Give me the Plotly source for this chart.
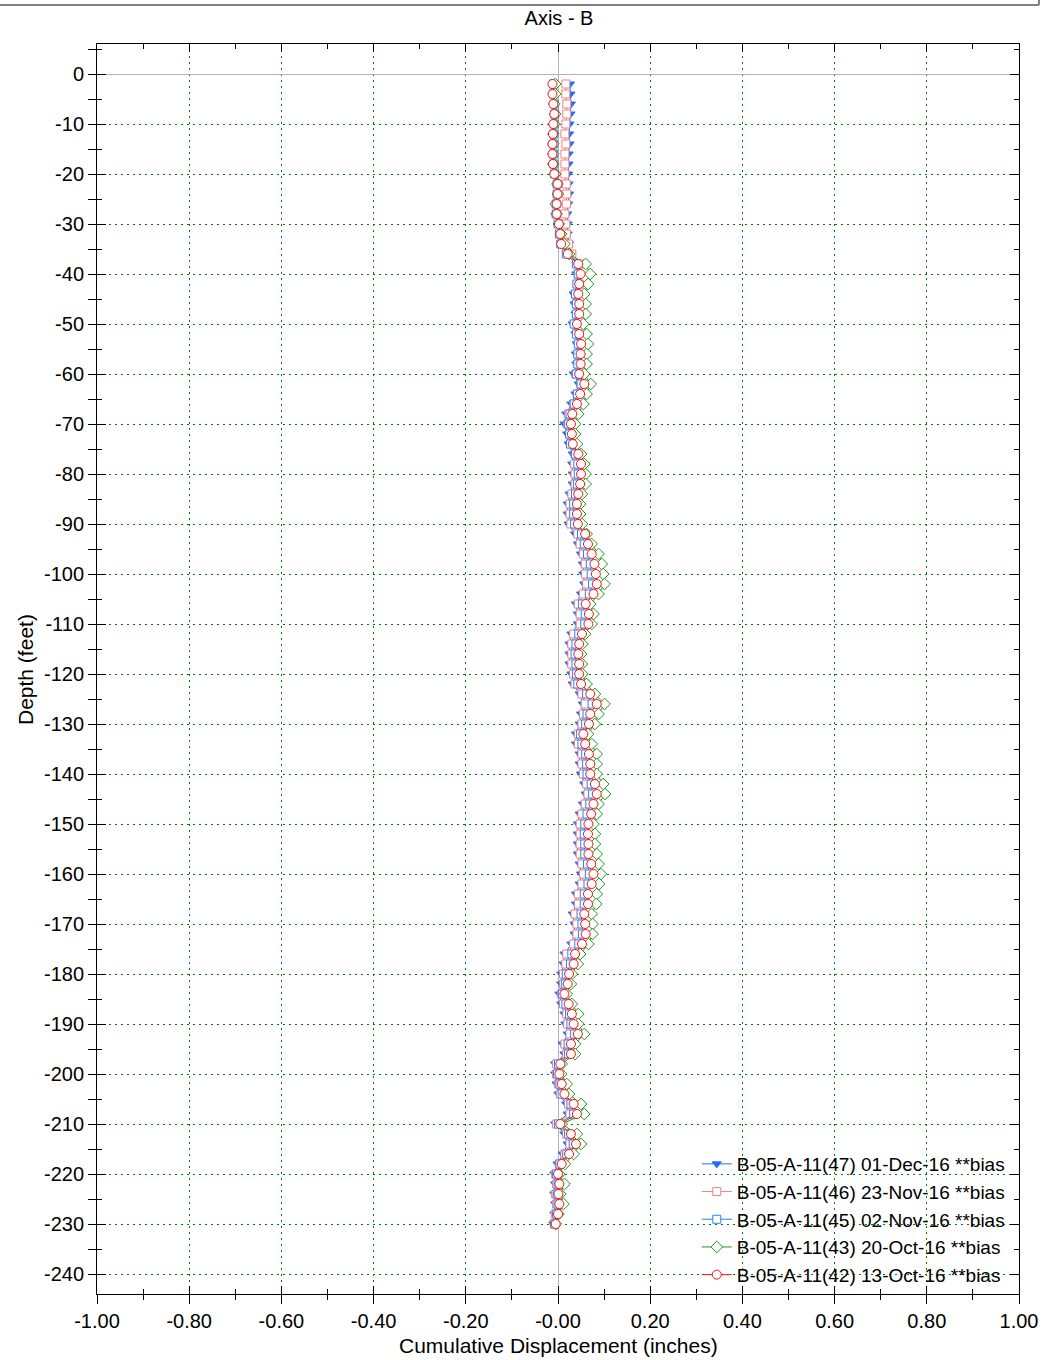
import plotly.graph_objects as go

depth = [-2 * i for i in range(1, 116)]  # -2 ... -230 ft

s47 = [0.026,0.027,0.028,0.027,0.025,0.024,0.025,0.023,0.023,0.022,0.023,0.024,0.022,0.020,0.021,0.021,0.024,0.028,0.040,
       0.040,0.042,0.034,0.036,0.038,0.032,0.038,0.041,0.039,0.040,0.034,0.045,0.038,0.029,0.018,0.014,0.020,0.023,0.032,0.031,
       0.032,0.032,0.025,0.021,0.021,0.023,0.037,0.043,0.050,0.054,0.055,0.057,0.050,0.039,0.043,0.043,0.029,0.025,0.025,
       0.025,0.029,0.032,0.047,0.054,0.050,0.047,0.039,0.039,0.047,0.047,0.050,0.057,0.060,0.054,0.047,0.043,0.043,0.043,0.043,
       0.047,0.050,0.047,0.039,0.039,0.032,0.036,0.036,0.029,0.014,0.012,0.007,0.007,0.003,0.007,0.014,0.016,0.021,0.010,
       0.014,-0.006,-0.006,-0.003,0.001,0.018,0.021,-0.006,0.014,0.021,0.010,-0.001,-0.008,-0.006,-0.008,-0.006,-0.008,-0.010]

s46 = [0.017,0.017,0.019,0.019,0.017,0.015,0.017,0.015,0.015,0.015,0.018,0.019,0.018,0.015,0.017,0.018,0.023,0.030,0.048,
       0.044,0.046,0.039,0.041,0.043,0.037,0.043,0.046,0.044,0.044,0.039,0.050,0.043,0.034,0.023,0.021,0.026,0.028,0.037,0.036,
       0.037,0.037,0.030,0.026,0.026,0.028,0.043,0.048,0.055,0.059,0.060,0.062,0.055,0.044,0.048,0.048,0.034,0.030,0.030,
       0.030,0.034,0.037,0.052,0.059,0.055,0.052,0.044,0.044,0.052,0.052,0.055,0.062,0.065,0.059,0.052,0.048,0.048,0.048,0.048,
       0.052,0.055,0.052,0.044,0.044,0.037,0.041,0.041,0.034,0.019,0.017,0.012,0.012,0.008,0.012,0.019,0.021,0.026,0.015,
       0.019,-0.003,-0.003,0.001,0.005,0.023,0.026,-0.003,0.019,0.026,0.015,0.003,-0.005,-0.003,-0.005,-0.003,-0.006,-0.008]

s45 = [-0.010,-0.010,-0.008,-0.007,-0.008,-0.009,-0.010,-0.010,-0.009,-0.007,-0.002,-0.002,-0.004,-0.004,0.000,0.003,0.006,0.018,0.040,
       0.044,0.041,0.038,0.040,0.040,0.035,0.040,0.044,0.043,0.043,0.040,0.050,0.042,0.035,0.026,0.023,0.025,0.027,0.038,0.043,
       0.044,0.042,0.038,0.034,0.034,0.036,0.051,0.057,0.064,0.070,0.072,0.075,0.068,0.053,0.059,0.058,0.045,0.039,0.037,
       0.039,0.040,0.043,0.062,0.074,0.063,0.060,0.049,0.052,0.060,0.062,0.063,0.072,0.075,0.069,0.063,0.058,0.057,0.058,0.058,
       0.064,0.068,0.065,0.057,0.057,0.050,0.052,0.053,0.045,0.030,0.027,0.018,0.016,0.010,0.017,0.025,0.028,0.036,0.022,
       0.023,0.001,-0.001,0.004,0.009,0.028,0.034,0.001,0.023,0.033,0.019,0.004,-0.003,0.000,-0.002,0.000,-0.003,-0.007]

s43 = [-0.006,-0.006,-0.008,-0.006,-0.008,-0.010,-0.010,-0.010,-0.010,-0.006,-0.001,0.000,-0.005,-0.003,0.002,0.007,0.014,0.024,0.060,
       0.070,0.065,0.057,0.060,0.060,0.055,0.062,0.065,0.062,0.062,0.057,0.071,0.062,0.055,0.044,0.037,0.037,0.041,0.050,0.057,
       0.060,0.060,0.052,0.048,0.048,0.052,0.062,0.073,0.088,0.095,0.098,0.101,0.088,0.070,0.077,0.073,0.059,0.053,0.050,
       0.052,0.053,0.062,0.080,0.101,0.088,0.080,0.065,0.073,0.084,0.084,0.084,0.098,0.102,0.088,0.084,0.077,0.080,0.080,0.084,
       0.088,0.093,0.089,0.084,0.083,0.073,0.075,0.075,0.066,0.048,0.043,0.030,0.028,0.019,0.030,0.044,0.044,0.057,0.037,
       0.037,0.008,0.007,0.019,0.024,0.050,0.057,0.008,0.041,0.050,0.034,0.015,0.003,0.014,0.005,0.012,0.001,-0.005]

s42 = [-0.012,-0.012,-0.010,-0.008,-0.010,-0.011,-0.012,-0.012,-0.011,-0.008,-0.001,-0.001,-0.003,-0.003,0.002,0.005,0.007,0.021,0.044,
       0.049,0.046,0.044,0.046,0.046,0.041,0.046,0.050,0.049,0.049,0.046,0.057,0.048,0.041,0.031,0.028,0.030,0.032,0.044,0.050,
       0.050,0.048,0.044,0.041,0.041,0.043,0.059,0.065,0.073,0.079,0.082,0.084,0.077,0.060,0.067,0.066,0.052,0.046,0.044,
       0.046,0.046,0.050,0.070,0.084,0.070,0.067,0.055,0.059,0.067,0.070,0.070,0.080,0.084,0.077,0.072,0.066,0.065,0.066,0.066,
       0.072,0.077,0.073,0.065,0.065,0.057,0.059,0.060,0.052,0.037,0.034,0.024,0.021,0.014,0.023,0.030,0.034,0.043,0.028,
       0.028,0.005,0.003,0.008,0.014,0.034,0.041,0.005,0.028,0.039,0.024,0.008,0.000,0.003,0.001,0.003,0.000,-0.005]

names = ["B-05-A-11(47) 01-Dec-16 **bias", "B-05-A-11(46) 23-Nov-16 **bias",
         "B-05-A-11(45) 02-Nov-16 **bias", "B-05-A-11(43) 20-Oct-16 **bias",
         "B-05-A-11(42) 13-Oct-16 **bias"]

x_tickvals = [-1.0, -0.8, -0.6, -0.4, -0.2, 0.0, 0.2, 0.4, 0.6, 0.8, 1.0]
x_ticktext = ["-1.00", "-0.80", "-0.60", "-0.40", "-0.20", "-0.00", "0.20", "0.40", "0.60", "0.80", "1.00"]
x_minor = [-0.9, -0.7, -0.5, -0.3, -0.1, 0.1, 0.3, 0.5, 0.7, 0.9]
y_tickvals = [0, -10, -20, -30, -40, -50, -60, -70, -80, -90, -100, -110, -120, -130, -140, -150,
              -160, -170, -180, -190, -200, -210, -220, -230, -240]
y_ticktext = [str(v) for v in y_tickvals]
y_minor = [5, -5, -15, -25, -35, -45, -55, -65, -75, -85, -95, -105, -115, -125, -135, -145,
           -155, -165, -175, -185, -195, -205, -215, -225, -235]

x_title = "Cumulative Displacement (inches)"
y_title = "Depth (feet)"
chart_title = "Axis - B"

FONT = "Arial, Liberation Sans, sans-serif"

styles = [
    dict(color="#1f6fff", symbol="triangle-down", size=8, fill="#1f6fff"),
    dict(color="#f08080", symbol="square", size=8, fill="white"),
    dict(color="#1e88ff", symbol="square", size=8, fill="white"),
    dict(color="#1a9a1a", symbol="diamond", size=9, fill="white"),
    dict(color="#ff1010", symbol="circle", size=9, fill="white"),
]

fig = go.Figure()
for name, vals, st in zip(names, [s47, s46, s45, s43, s42], styles):
    fig.add_trace(go.Scatter(
        x=vals, y=depth, name=name, mode="lines+markers",
        line=dict(color=st["color"], width=1),
        marker=dict(symbol=st["symbol"], size=st["size"], color=st["fill"],
                    line=dict(color=st["color"], width=1)),
    ))

# dummy trace to display overlay axes carrying inside ticks
fig.add_trace(go.Scatter(x=[None], y=[None], xaxis="x2", yaxis="y2",
                         showlegend=False, hoverinfo="skip"))

W, H = 1044, 1360
PW, PH = 922, 1250  # plot area size in px
grid = "#008000"
gdash = "2px,4px"
fig.update_layout(
    width=W, height=H,
    margin=dict(l=97, r=25, t=44, b=66, autoexpand=False),
    paper_bgcolor="white", plot_bgcolor="white",
    font=dict(family=FONT, size=20, color="black"),
    title=dict(text=chart_title, x=(559 - 97) / PW, xref="paper", xanchor="center",
               y=1 - 18 / H, yanchor="middle",
               font=dict(family=FONT, size=20, color="black")),
    showlegend=True,
    legend=dict(x=0.99, y=0.0, xanchor="right", yanchor="bottom",
                bgcolor="rgba(0,0,0,0)", borderwidth=0,
                font=dict(family=FONT, size=19, color="black"),
                tracegroupgap=0, itemwidth=30),
    xaxis=dict(range=[-1, 1], tickmode="array", tickvals=x_tickvals, ticktext=x_ticktext,
               automargin=False,
               ticks="outside", ticklen=9, tickcolor="black", tickwidth=1,
               showline=True, linecolor="black", linewidth=1, mirror=True,
               showgrid=True, gridcolor=grid, griddash=gdash, gridwidth=1,
               zeroline=True, zerolinecolor="#b4b4b4", zerolinewidth=1,
               minor=dict(tickmode="array", tickvals=x_minor, ticks="outside", ticklen=5,
                          tickcolor="black", showgrid=False),
               tickfont=dict(family=FONT, size=20)),
    yaxis=dict(range=[-244, 6], tickmode="array", tickvals=y_tickvals, ticktext=y_ticktext,
               automargin=False,
               ticks="outside", ticklen=8, tickcolor="black", tickwidth=1,
               showline=True, linecolor="black", linewidth=1, mirror=True,
               showgrid=True, gridcolor=grid, griddash=gdash, gridwidth=1,
               zeroline=True, zerolinecolor="#b4b4b4", zerolinewidth=1,
               minor=dict(tickmode="array", tickvals=y_minor, ticks="outside", ticklen=8,
                          tickcolor="black", showgrid=False),
               tickfont=dict(family=FONT, size=20)),
    xaxis2=dict(overlaying="x", matches="x", side="bottom", range=[-1, 1], automargin=False,
                tickmode="array", tickvals=x_tickvals, ticks="inside", ticklen=8,
                tickcolor="black", showticklabels=False, showgrid=False, zeroline=False,
                showline=True, linecolor="black", mirror="ticks",
                minor=dict(tickmode="array", tickvals=x_minor, ticks="inside", ticklen=5,
                           tickcolor="black", showgrid=False)),
    yaxis2=dict(overlaying="y", matches="y", side="left", range=[-244, 6], automargin=False,
                tickmode="array", tickvals=y_tickvals, ticks="inside", ticklen=9,
                tickcolor="black", showticklabels=False, showgrid=False, zeroline=False,
                showline=True, linecolor="black", mirror="ticks",
                minor=dict(tickmode="array", tickvals=y_minor, ticks="inside", ticklen=5,
                           tickcolor="black", showgrid=False)),
    annotations=[
        dict(text=x_title, xref="paper", yref="paper", x=(558 - 97) / PW, y=(1294 - 1345) / PH,
             xanchor="center", yanchor="middle", showarrow=False,
             font=dict(family=FONT, size=21, color="black")),
        dict(text=y_title, xref="paper", yref="paper", x=(25 - 97) / PW, y=(1294 - 670) / PH,
             xanchor="center", yanchor="middle", showarrow=False, textangle=-90,
             font=dict(family=FONT, size=21, color="black")),
    ],
    shapes=[
        dict(type="line", xref="paper", yref="paper", x0=-0.11, x1=(1039 - 97) / PW,
             y0=1 + 39 / PH, y1=1 + 39 / PH, line=dict(color="#808080", width=2)),
        dict(type="line", xref="paper", yref="paper", x0=(1039 - 97) / PW, x1=(1039 - 97) / PW,
             y0=1 + 39 / PH, y1=1 + 45 / PH, line=dict(color="#808080", width=2)),
    ],
)

fig.write_html("out.html", config={"displayModeBar": False},
               post_script="document.body.style.margin='0';document.body.style.overflow='hidden';")
